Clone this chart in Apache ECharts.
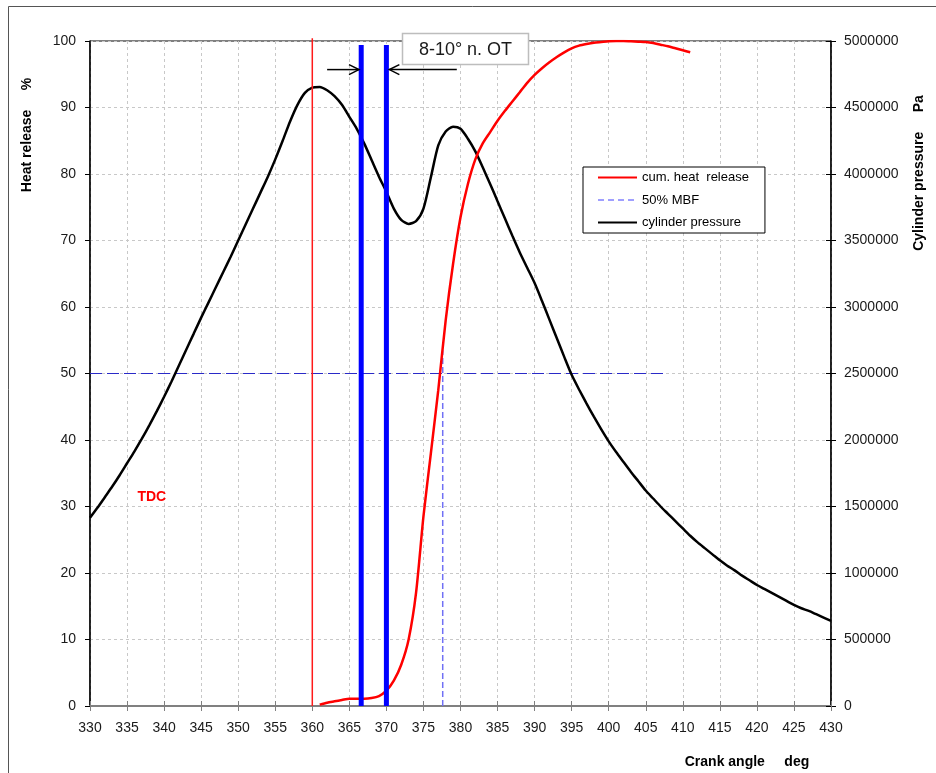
<!DOCTYPE html>
<html>
<head>
<meta charset="utf-8">
<script src="https://cdn.jsdelivr.net/npm/echarts@6/dist/echarts.min.js"></script>
<style>
  html, body { margin: 0; padding: 0; background: #fff; }
  #chart { width: 936px; height: 773px; }
</style>
</head>
<body>
<div id="chart"></div>
<script>
// Crank angle (deg) for the cylinder pressure trace
const crankAngle = [
  330, 331, 332, 333, 334, 335, 336, 337, 338, 339,
  340, 341, 342, 343, 344, 345, 346, 347, 348, 349,
  350, 351, 352, 353, 354, 355, 356, 357, 358, 359,
  360, 361, 362, 363, 364, 365, 366, 367, 368, 369,
  370, 371, 372, 373, 374, 375, 376, 377, 378, 379,
  380, 381, 382, 383, 384, 385, 386, 387, 388, 389,
  390, 391, 392, 393, 394, 395, 396, 397, 398, 399,
  400, 401, 402, 403, 404, 405, 406, 407, 408, 409,
  410, 411, 412, 413, 414, 415, 416, 417, 418, 419,
  420, 421, 422, 423, 424, 425, 426, 427, 428, 429,
  430
];

// Cylinder pressure (Pa)
const cylinderPressure = [
  1415000, 1490000, 1570000, 1650000, 1735000, 1825000, 1915000, 2010000, 2110000, 2215000,
  2325000, 2440000, 2560000, 2680000, 2800000, 2920000, 3035000, 3150000, 3265000, 3380000,
  3500000, 3620000, 3740000, 3860000, 3980000, 4110000, 4250000, 4395000, 4520000, 4610000,
  4650000, 4655000, 4630000, 4585000, 4520000, 4430000, 4340000, 4230000, 4105000, 3980000,
  3865000, 3740000, 3655000, 3625000, 3645000, 3740000, 3975000, 4215000, 4320000, 4355000,
  4340000, 4265000, 4170000, 4050000, 3925000, 3795000, 3665000, 3535000, 3410000, 3295000,
  3180000, 3045000, 2905000, 2765000, 2625000, 2490000, 2380000, 2275000, 2175000, 2080000,
  1990000, 1910000, 1835000, 1760000, 1690000, 1620000, 1560000, 1500000, 1445000, 1390000,
  1335000, 1280000, 1230000, 1185000, 1140000, 1095000, 1055000, 1020000, 980000, 945000,
  910000, 880000, 850000, 820000, 790000, 760000, 735000, 715000, 690000, 665000,
  640000
];

// Crank angle (deg) for the cumulative heat release
const heatAngle = [
  361, 362, 363, 364, 365, 366, 367, 368, 369, 370,
  371, 372, 373, 374, 375, 376, 377, 378, 379, 380,
  381, 382, 383, 384, 385, 386, 387, 388, 389, 390,
  391, 392, 393, 394, 395, 396, 397, 398, 399, 400,
  401, 402, 403, 404, 405, 406, 407, 408, 409, 410,
  411
];

// Cumulative heat release (%)
const cumHeatRelease = [
  0.2, 0.5, 0.7, 0.9, 1.1, 1.1, 1.1, 1.2, 1.5, 2.3,
  3.8, 6.2, 10.0, 17.0, 28.5, 38.0, 47.5, 58.0, 66.5, 73.5,
  78.5, 82.2, 84.6, 86.3, 88.0, 89.5, 90.9, 92.3, 93.7, 94.9,
  95.9, 96.8, 97.6, 98.3, 98.9, 99.3, 99.55, 99.75, 99.85, 99.95,
  100, 100, 99.95, 99.9, 99.85, 99.7, 99.45, 99.2, 98.9, 98.6,
  98.3
];

// 50 % mass burned fraction marker
const mbfLevel = 50;
const mbfAngle = 377.6;
const mbfLineStart = 330;
const mbfLineEnd = 408;
const mbfVerticalTop = 53.5;

// Top dead centre and the 8-10 deg combustion window
const tdcAngle = 360;
const tdcTop = 100.4;
const windowAngles = [366.6, 370];
const windowTop = 99.4;

// Axis ticks
const xTicks = { min: 330, max: 430, step: 5 };
const heatTicks = { min: 0, max: 100, step: 10 };
const pressureTicks = { min: 0, max: 5000000, step: 500000 };

const FONT = '"Liberation Sans", Arial, sans-serif';
const GRID_LINE = { color: '#c8c8c8', width: 1, type: [3, 3] };

const pressureData = crankAngle.map((a, i) => [a, cylinderPressure[i]]);
const heatData = heatAngle.map((a, i) => [a, cumHeatRelease[i]]);

const chart = echarts.init(document.getElementById('chart'), null, { renderer: 'canvas' });

const option = {
  animation: false,
  backgroundColor: '#ffffff',
  grid: {
    left: 90, right: 105, top: 41, bottom: 67,
    show: true, borderColor: '#000', borderWidth: 1, backgroundColor: 'transparent'
  },
  legend: {
    orient: 'vertical',
    left: 583, top: 167,
    itemWidth: 39, itemHeight: 14, itemGap: 9.5,
    padding: [4, 16, 4, 14],
    backgroundColor: '#fff',
    borderColor: '#000', borderWidth: 1,
    selectedMode: false,
    itemStyle: { opacity: 0 },
    textStyle: { fontSize: 13, color: '#000', fontFamily: FONT },
    data: [
      { name: 'cum. heat  release' },
      { name: '50% MBF', lineStyle: { color: '#4040ff', width: 1, type: [6, 4] } },
      { name: 'cylinder pressure' }
    ]
  },
  xAxis: [
    {
      type: 'value', min: xTicks.min, max: xTicks.max, interval: xTicks.step, position: 'bottom',
      axisLine: { show: true, onZero: false, lineStyle: { color: '#808080', width: 2 } },
      axisTick: { show: true, length: 5, lineStyle: { color: '#808080', width: 1 } },
      axisLabel: { margin: 15, fontSize: 14, color: '#1a1a1a', fontFamily: FONT },
      splitLine: { show: true, lineStyle: GRID_LINE }
    },
    {
      type: 'value', min: xTicks.min, max: xTicks.max, interval: xTicks.step, position: 'bottom',
      axisLine: { show: false },
      axisTick: { show: true, inside: true, length: 5, lineStyle: { color: '#808080', width: 1 } },
      axisLabel: { show: false },
      splitLine: { show: false }
    }
  ],
  yAxis: [
    {
      type: 'value', min: heatTicks.min, max: heatTicks.max, interval: heatTicks.step, position: 'left',
      axisLine: { show: true, onZero: false, lineStyle: { color: '#000', width: 1.5 } },
      axisTick: { show: true, length: 5, lineStyle: { color: '#000', width: 1 } },
      axisLabel: { margin: 14, fontSize: 14, color: '#1a1a1a', fontFamily: FONT },
      splitLine: { show: true, lineStyle: GRID_LINE }
    },
    {
      type: 'value', min: pressureTicks.min, max: pressureTicks.max, interval: pressureTicks.step, position: 'right',
      axisLine: { show: true, onZero: false, lineStyle: { color: '#000', width: 1.5 } },
      axisTick: { show: true, length: 5, lineStyle: { color: '#000', width: 1 } },
      axisLabel: { margin: 13, fontSize: 14, color: '#1a1a1a', fontFamily: FONT, formatter: v => String(v) },
      splitLine: { show: false }
    },
    {
      type: 'value', min: pressureTicks.min, max: pressureTicks.max, interval: pressureTicks.step, position: 'right',
      axisLine: { show: false },
      axisTick: { show: true, inside: true, length: 5, lineStyle: { color: '#000', width: 1 } },
      axisLabel: { show: false },
      splitLine: { show: false }
    }
  ],
  series: [
    {
      name: '50% MBF', type: 'line', xAxisIndex: 0, yAxisIndex: 0,
      data: [[mbfLineStart, mbfLevel], [mbfLineEnd, mbfLevel]],
      symbol: 'none', lineStyle: { color: '#2a2ac8', width: 1.2, type: [12, 5] }, z: 2
    },
    {
      name: '50% MBF', type: 'line', xAxisIndex: 0, yAxisIndex: 0,
      data: [[mbfAngle, 0], [mbfAngle, mbfVerticalTop]],
      symbol: 'none', lineStyle: { color: '#7070f5', width: 1.5, type: [6, 3] }, z: 2
    },
    {
      name: 'cylinder pressure', type: 'line', xAxisIndex: 0, yAxisIndex: 1,
      data: pressureData, symbol: 'none', smooth: 0.25,
      lineStyle: { color: '#000', width: 2.5 }, itemStyle: { color: '#000' }, z: 3
    },
    {
      name: 'TDC', type: 'line', xAxisIndex: 0, yAxisIndex: 0,
      data: [[tdcAngle, 0], [tdcAngle, tdcTop]], clip: false,
      symbol: 'none', lineStyle: { color: '#ff1a1a', width: 1.5 }, z: 3
    },
    {
      name: 'cum. heat  release', type: 'line', xAxisIndex: 0, yAxisIndex: 0,
      data: heatData, symbol: 'none', smooth: 0.25,
      lineStyle: { color: '#ff0000', width: 2.5 }, itemStyle: { color: '#ff0000' }, z: 4
    },
    {
      name: 'window start', type: 'line', xAxisIndex: 0, yAxisIndex: 0,
      data: [[windowAngles[0], 0], [windowAngles[0], windowTop]],
      symbol: 'none', lineStyle: { color: '#0000ff', width: 5 }, z: 5
    },
    {
      name: 'window end', type: 'line', xAxisIndex: 0, yAxisIndex: 0,
      data: [[windowAngles[1], 0], [windowAngles[1], windowTop]],
      symbol: 'none', lineStyle: { color: '#0000ff', width: 5 }, z: 5
    }
  ]
};

chart.setOption(option);

// Annotations placed through the axis scales
const toPx = (x, y) => chart.convertToPixel({ xAxisIndex: 0, yAxisIndex: 0 }, [x, y]);
const arrowLevel = 95.7;
const arrowPairs = [[362.0, 366.3], [379.5, 370.4]];
const tdcLabelAt = [336.4, 31.4];

const graphics = [];

// outer frame of the sheet
graphics.push({
  type: 'polyline', silent: true, z: 1,
  shape: { points: [[8.5, 773], [8.5, 6.5], [936, 6.5]] },
  style: { stroke: '#555', lineWidth: 1, fill: null }
});

arrowPairs.forEach(([from, to]) => {
  const p0 = toPx(from, arrowLevel);
  const p1 = toPx(to, arrowLevel);
  const dir = p1[0] > p0[0] ? 1 : -1;
  graphics.push({
    type: 'polyline', silent: true, z: 20,
    shape: { points: [p0, p1] },
    style: { stroke: '#000', lineWidth: 1.5, fill: null }
  });
  graphics.push({
    type: 'polyline', silent: true, z: 20,
    shape: { points: [[p1[0] - dir * 10, p1[1] - 5], p1, [p1[0] - dir * 10, p1[1] + 5]] },
    style: { stroke: '#000', lineWidth: 1.5, fill: null }
  });
});

// callout box
graphics.push({
  type: 'rect', silent: true, z: 30,
  shape: { x: 402.5, y: 33.5, width: 126, height: 31 },
  style: { fill: '#fff', stroke: '#bdbdbd', lineWidth: 1.5 }
});
graphics.push({
  type: 'text', silent: true, z: 31,
  x: 465.5, y: 50,
  style: { text: '8-10° n. OT', fill: '#1a1a1a', font: '18px ' + FONT, align: 'center', verticalAlign: 'middle' }
});

const tdcPx = toPx(tdcLabelAt[0], tdcLabelAt[1]);
graphics.push({
  type: 'text', silent: true, z: 20,
  x: tdcPx[0], y: tdcPx[1],
  style: { text: 'TDC', fill: '#ff0000', font: 'bold 14px ' + FONT, align: 'left', verticalAlign: 'middle' }
});

// axis titles
graphics.push({
  type: 'text', silent: true, z: 20,
  x: 27, y: 135, rotation: Math.PI / 2,
  style: { text: 'Heat release     %', fill: '#000', font: 'bold 14px ' + FONT, align: 'center', verticalAlign: 'middle' }
});
graphics.push({
  type: 'text', silent: true, z: 20,
  x: 919, y: 173, rotation: Math.PI / 2,
  style: { text: 'Cylinder pressure     Pa', fill: '#000', font: 'bold 14px ' + FONT, align: 'center', verticalAlign: 'middle' }
});
graphics.push({
  type: 'text', silent: true, z: 20,
  x: 747, y: 762,
  style: { text: 'Crank angle     deg', fill: '#000', font: 'bold 14px ' + FONT, align: 'center', verticalAlign: 'middle' }
});

chart.setOption({ graphic: graphics });
</script>
</body>
</html>
